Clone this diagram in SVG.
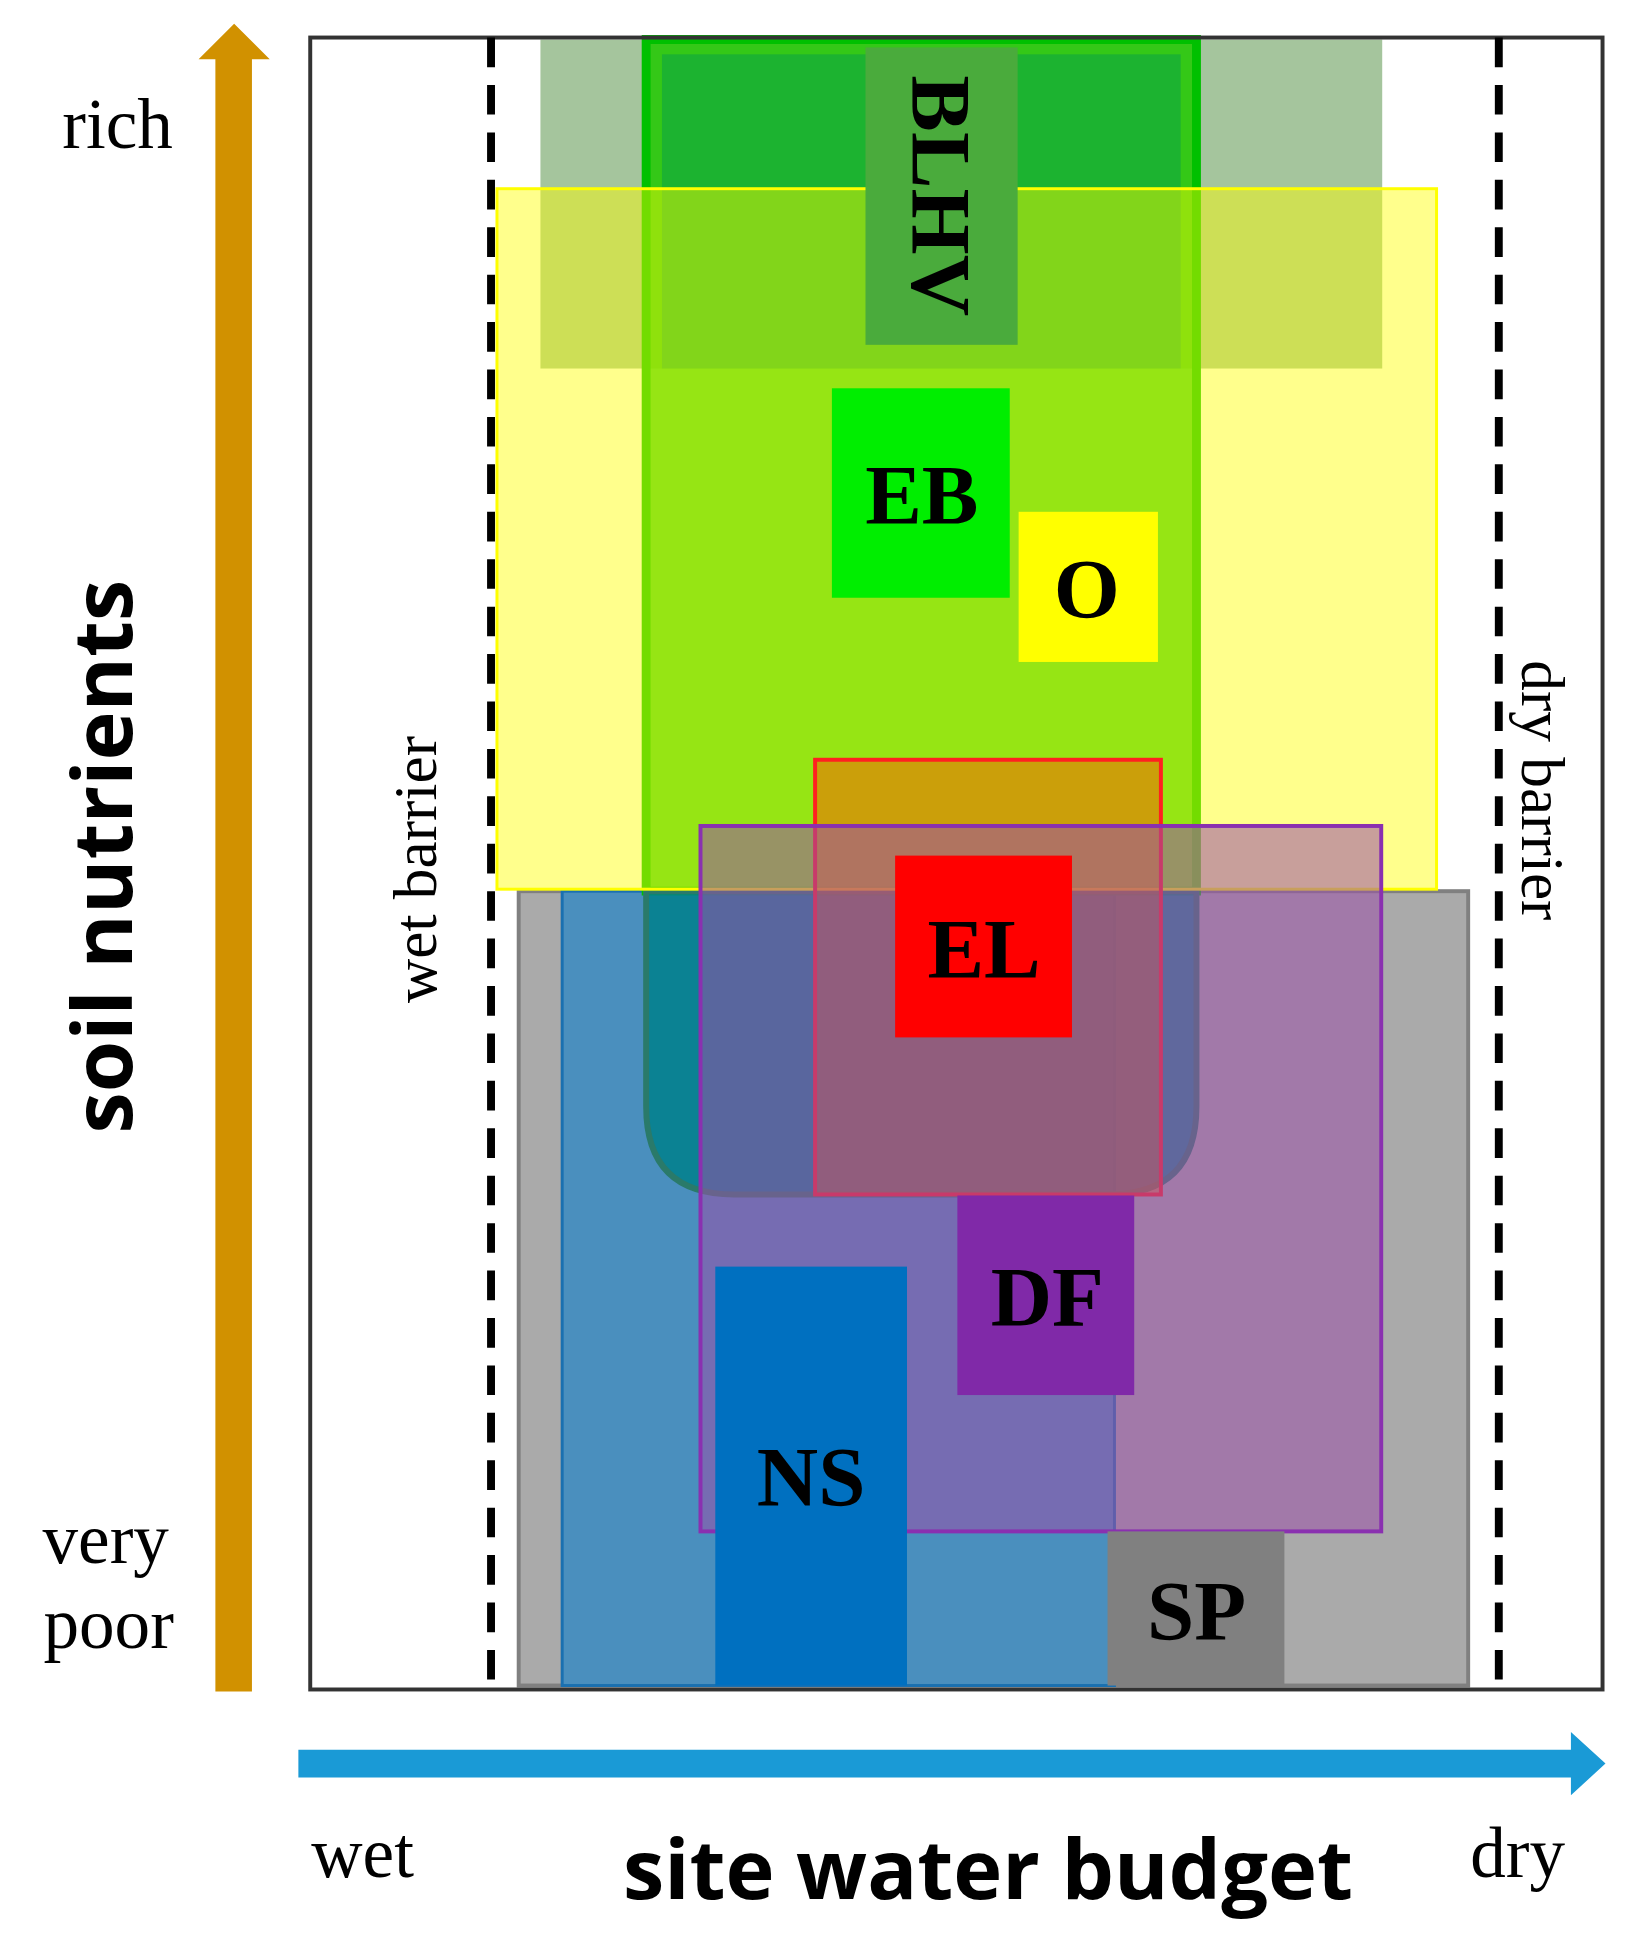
<svg xmlns="http://www.w3.org/2000/svg" width="1634" height="1950" viewBox="0 0 1634 1950">
<style>
.lbl{font-family:"Liberation Serif",serif;font-weight:bold;font-size:86px;fill:#000;text-anchor:middle}
.ax{font-family:"Liberation Serif",serif;font-size:72px;fill:#000;text-anchor:middle}
.bar{font-family:"Liberation Serif",serif;font-size:62px;fill:#000;text-anchor:middle}
.big{font-family:"Open Sans","DejaVu Sans",sans-serif;font-weight:bold;font-size:84px;fill:#000;text-anchor:middle}
</style>
<rect width="1634" height="1950" fill="#fff"/>
<g transform="scale(0.988)">
<g id="zones">
<rect x="547" y="40" width="852" height="333" fill="#4c8c3c" fill-opacity="0.5"/>
<rect x="525" y="902" width="961" height="804" fill="#aaaaaa" stroke="#808080" stroke-width="4"/>
<rect x="569" y="902" width="559" height="804" fill="#4a8fbe" stroke="#1a70b0" stroke-width="3"/>
<path d="M654,40 H1211 V902 H654 Z" fill="#20c800" fill-opacity="0.85" stroke="#00c000" stroke-width="9"/>
<rect x="670" y="55" width="525" height="318" fill="#009a50" fill-opacity="0.45"/>
<path d="M654,902 H1211 V1120 Q1211,1209 1122,1209 H743 Q654,1209 654,1120 Z" fill="#00808c" fill-opacity="0.85" stroke="#2a7a6a" stroke-width="6"/>
<rect x="503" y="191" width="951" height="709" fill="#ffff00" fill-opacity="0.45" stroke="#ffff00" stroke-width="3"/>
<rect x="825" y="769" width="350" height="440" fill="#ff5a00" fill-opacity="0.5" stroke="#ff2020" stroke-width="4"/>
<rect x="709" y="836" width="689" height="714" fill="#9a50a8" fill-opacity="0.55" stroke="#8a30b0" stroke-width="4"/>
</g>
<g id="frame">
<rect x="314" y="38" width="1308" height="1672" fill="none" stroke="#333" stroke-width="4"/>
<line x1="497" y1="38" x2="497" y2="1710" stroke="#000" stroke-width="8" stroke-dasharray="30,18"/>
<line x1="1517" y1="38" x2="1517" y2="1710" stroke="#000" stroke-width="8" stroke-dasharray="30,18"/>
</g>
<g id="BLHV"><rect x="876" y="48" width="154" height="301" fill="#4aab3c"/><text class="lbl" transform="translate(953,198) rotate(90)" y="30">BLHV</text></g>
<g id="EB"><rect x="842" y="393" width="180" height="212" fill="#00ee00"/><text class="lbl" x="933" y="530">EB</text></g>
<g id="O"><rect x="1031" y="518" width="141" height="152" fill="#ffff00"/><text class="lbl" x="1100" y="625">O</text></g>
<g id="EL"><rect x="906" y="866" width="179" height="184" fill="#ff0000"/><text class="lbl" x="996" y="990">EL</text></g>
<g id="DF"><rect x="969" y="1210" width="179" height="202" fill="#8029a8"/><text class="lbl" x="1060" y="1342">DF</text></g>
<g id="NS"><rect x="724" y="1282" width="194" height="424" fill="#0070c0"/><text class="lbl" x="821" y="1524">NS</text></g>
<g id="SP"><rect x="1121" y="1550" width="179" height="156" fill="#808080"/><text class="lbl" x="1211" y="1660">SP</text></g>
<g id="connectors">
<path d="M218,1712 V60 H201 L237,24 L273,60 H255 V1712 Z" fill="#d19100"/>
<path d="M302,1771 H1590 V1753 L1625,1785 L1590,1817 V1799 H302 Z" fill="#1a9ad6"/>
</g>
<g id="labels">
<text class="ax" x="119" y="150">rich</text>
<text class="ax" x="107" y="1582">very</text>
<text class="ax" x="110" y="1668">poor</text>
<text class="big" transform="translate(134,867) rotate(-90)">soil nutrients</text>
<text class="bar" transform="translate(441,880) rotate(-90)">wet barrier</text>
<text class="bar" transform="translate(1540,800) rotate(90)">dry barrier</text>
<text class="ax" x="367" y="1900">wet</text>
<text class="ax" x="1536" y="1900">dry</text>
<text class="big" x="1000" y="1922">site water budget</text>
</g>
</g>
</svg>
